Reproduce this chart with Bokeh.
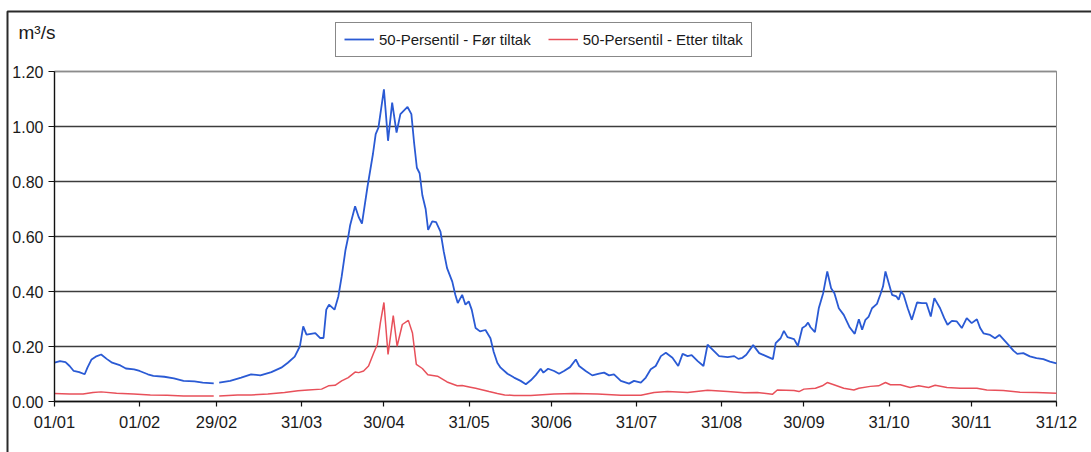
from bokeh.plotting import figure
from bokeh.models import (FixedTicker, Legend, LegendItem, Label, BoxAnnotation,
                          PrintfTickFormatter, Range1d)
from bokeh.embed import file_html
from bokeh.resources import INLINE

nan = float("nan")

# Day of year (1 = 01/01, leap year) and daily median flow, m3/s
before_day = [1, 3, 5, 6.5, 8, 10, 12, 13, 14.5, 16, 18, 20, 22, 25, 27, 30, 32, 35, 37, 41,
              44.5, 48, 52, 55, 59, 60, 61, 65, 69, 72.6, 76, 80, 83.6, 86, 88.5, 90.4, 91.6,
              92.8, 96, 97.7, 99, 100, 101, 103, 104.4, 105.6, 107, 108, 108.7, 110.5, 111.8,
              113, 115, 117, 118, 119, 121, 122.5, 124, 125.6, 127, 129.6, 131, 132, 133, 134,
              135, 136.2, 137.1, 138.6, 140, 141.6, 142.8, 144, 145.9, 147, 147.9, 149.5, 150.7,
              151.9, 153, 154.4, 156, 158, 159.8, 161, 162.3, 163.5, 166, 168.4, 170.8, 172.7,
              174.5, 176.3, 178.1, 179.1, 180.8, 183, 184.8, 186.6, 188.8, 190.9, 192.1, 194.5,
              196.9, 199.4, 201.2, 203, 204.8, 207.3, 210.3, 212.1, 214.6, 216.4, 218.2, 220,
              221.9, 223.7, 226.1, 228.2, 229.8, 231.6, 233.1, 235.3, 237.4, 238.9, 240.7, 243.1,
              246.2, 248.6, 250.1, 251.6, 253, 255.5, 257.7, 260, 262.7, 263.7, 265.5, 266.7,
              268, 270.4, 271.8, 273.4, 274.6, 275.5, 276.4, 278, 279.4, 281, 282.5, 283.9,
              285.1, 286.7, 288.5, 290.7, 292.5, 294, 295.2, 296.4, 297.6, 298.8, 300.6, 301.8,
              302.8, 303.7, 304.9, 306.1, 307.7, 308.5, 309.4, 310.3, 311.8, 313.3, 315.2, 317,
              318.6, 320.2, 321.5, 323.6, 325.1, 326.3, 327.9, 329.7, 331.5, 333.3, 335.1, 337,
              338.2, 339.4, 341.8, 343.6, 345.2, 346.6, 348.5, 350.3, 351.7, 353.9, 356.3, 358.7,
              361.2, 363.6, 366]
before_flow = [0.141, 0.147, 0.143, 0.129, 0.111, 0.107, 0.099, 0.123, 0.153, 0.163, 0.171, 0.155,
               0.141, 0.131, 0.120, 0.117, 0.111, 0.099, 0.093, 0.090, 0.084, 0.075, 0.073, 0.069,
               0.066, nan, 0.069, 0.075, 0.087, 0.099, 0.095, 0.107, 0.123, 0.141, 0.163, 0.201,
               0.273, 0.243, 0.249, 0.231, 0.231, 0.334, 0.352, 0.334, 0.382, 0.454, 0.551, 0.599,
               0.641, 0.710, 0.671, 0.647, 0.780, 0.900, 0.972, 0.996, 1.135, 0.948, 1.087, 0.978,
               1.045, 1.071, 1.045, 0.940, 0.850, 0.830, 0.750, 0.700, 0.624, 0.655, 0.652, 0.618,
               0.545, 0.485, 0.436, 0.388, 0.358, 0.388, 0.352, 0.364, 0.333, 0.267, 0.255, 0.260,
               0.230, 0.180, 0.141, 0.123, 0.101, 0.087, 0.075, 0.063, 0.077, 0.096, 0.119, 0.105,
               0.119, 0.111, 0.101, 0.111, 0.125, 0.153, 0.129, 0.111, 0.095, 0.101, 0.105, 0.095,
               0.099, 0.075, 0.065, 0.075, 0.069, 0.087, 0.117, 0.129, 0.165, 0.177, 0.159, 0.129,
               0.173, 0.165, 0.169, 0.147, 0.129, 0.207, 0.189, 0.165, 0.161, 0.165, 0.155, 0.159,
               0.170, 0.205, 0.176, 0.166, 0.154, 0.212, 0.230, 0.257, 0.234, 0.227, 0.202, 0.267,
               0.275, 0.287, 0.270, 0.252, 0.339, 0.394, 0.473, 0.412, 0.394, 0.339, 0.315, 0.269,
               0.246, 0.299, 0.261, 0.297, 0.309, 0.339, 0.355, 0.388, 0.418, 0.473, 0.430, 0.388,
               0.382, 0.370, 0.400, 0.388, 0.339, 0.297, 0.360, 0.358, 0.358, 0.309, 0.376, 0.339,
               0.303, 0.279, 0.293, 0.291, 0.267, 0.303, 0.285, 0.299, 0.267, 0.248, 0.242, 0.230,
               0.242, 0.227, 0.206, 0.185, 0.173, 0.176, 0.164, 0.158, 0.154, 0.145, 0.139]

after_day = [1, 6.5, 11.4, 15, 18, 23.6, 29.8, 35.9, 42, 48, 54, 59, 60, 61, 67.7, 72.6, 78.7,
             84.8, 89.7, 93.4, 98.3, 100.8, 103.2, 105.6, 108, 110.5, 111.8, 113.6, 115.4, 117.3,
             118.6, 119.7, 121, 122.5, 124.4, 125.8, 127.7, 129.9, 131.4, 132.8, 135, 137, 140.5,
             144, 147.7, 149.5, 152.5, 154.4, 157.4, 159.3, 162.3, 165, 168.4, 174.5, 183, 190.3,
             198.8, 207.3, 214.6, 219.4, 224.3, 231.6, 238.9, 246.2, 252.2, 257, 262.5, 264.3,
             270.4, 272.2, 274, 278.2, 280.7, 282.5, 284.9, 288.5, 292.2, 294, 298.2, 301.2,
             303.7, 305.5, 309.1, 312.7, 315.8, 319.4, 321.8, 326.1, 330.9, 337, 340.6, 346.6,
             352.7, 358.7, 366]
after_flow = [0.029, 0.027, 0.027, 0.033, 0.035, 0.030, 0.027, 0.024, 0.023, 0.020, 0.020, 0.020,
              nan, 0.020, 0.024, 0.024, 0.027, 0.033, 0.039, 0.042, 0.045, 0.057, 0.059, 0.075,
              0.087, 0.107, 0.105, 0.111, 0.129, 0.177, 0.207, 0.286, 0.360, 0.171, 0.312, 0.201,
              0.280, 0.295, 0.249, 0.135, 0.120, 0.097, 0.092, 0.071, 0.057, 0.058, 0.052, 0.048,
              0.041, 0.036, 0.029, 0.024, 0.022, 0.022, 0.027, 0.029, 0.027, 0.023, 0.023, 0.033,
              0.036, 0.033, 0.041, 0.036, 0.032, 0.033, 0.026, 0.042, 0.040, 0.036, 0.045, 0.048,
              0.057, 0.069, 0.061, 0.048, 0.042, 0.048, 0.055, 0.057, 0.069, 0.061, 0.061, 0.051,
              0.057, 0.051, 0.059, 0.051, 0.048, 0.048, 0.042, 0.040, 0.034, 0.033, 0.030]

tick_days = [1, 32, 60, 91, 121, 152, 182, 213, 244, 274, 305, 335, 366]
tick_labels = ["01/01", "01/02", "29/02", "31/03", "30/04", "31/05", "30/06",
               "31/07", "31/08", "30/09", "31/10", "30/11", "31/12"]
y_ticks = [0.0, 0.2, 0.4, 0.6, 0.8, 1.0, 1.2]

series_names = ["50-Persentil - Før tiltak", "50-Persentil - Etter tiltak"]
unit_text = "m³/s"

FONT = "Liberation Sans"

# Canvas geometry (px): the frame covers the whole canvas so that the
# legend, unit text and outer border can sit around the plotting area.
W, H = 1091, 452
AREA_LEFT, AREA_RIGHT, AREA_TOP, AREA_BOTTOM = 54, 1056, 71, 401

x0, x1 = tick_days[0], tick_days[-1]
y0, y1 = y_ticks[0], y_ticks[-1]
px_per_day = (AREA_RIGHT - AREA_LEFT) / (x1 - x0)
px_per_unit = (AREA_BOTTOM - AREA_TOP) / (y1 - y0)
x_range = Range1d(x0 - AREA_LEFT / px_per_day, x1 + (W - AREA_RIGHT) / px_per_day)
y_range = Range1d(y0 - (H - AREA_BOTTOM) / px_per_unit, y1 + AREA_TOP / px_per_unit)

p = figure(width=W, height=H, output_backend="svg", toolbar_location=None,
           x_range=x_range, y_range=y_range,
           min_border_left=0, min_border_right=0, min_border_top=0, min_border_bottom=0)
p.background_fill_color = "white"
p.border_fill_color = "white"
p.outline_line_color = None

# Axes pinned to the edges of the plotting area
p.yaxis.fixed_location = x0
p.yaxis.bounds = (y0, y1)
p.xaxis.fixed_location = y0
p.xaxis.bounds = (x0, x1)

p.yaxis.ticker = FixedTicker(ticks=y_ticks)
p.yaxis.formatter = PrintfTickFormatter(format="%.2f")
p.xaxis.ticker = FixedTicker(ticks=tick_days)
p.xaxis.major_label_overrides = {d: t for d, t in zip(tick_days, tick_labels)}

for ax in (p.xaxis[0], p.yaxis[0]):
    ax.axis_line_color = "#111111"
    ax.axis_line_width = 1.4
    ax.major_tick_line_color = "#111111"
    ax.major_tick_line_width = 1.2
    ax.major_tick_in = 0
    ax.minor_tick_line_color = None
    ax.major_label_text_font = FONT
    ax.major_label_text_color = "#1a1a1a"
p.xaxis.major_label_text_font_size = "16.5px"
p.yaxis.major_label_text_font_size = "16px"
p.yaxis.major_tick_out = 6
p.yaxis.major_label_standoff = 5
p.xaxis.major_tick_out = 5
p.xaxis.major_label_standoff = 6

# Horizontal grid lines, limited to the plotting area
p.xgrid.visible = False
ygrid = p.ygrid[0]
if "cross_bounds" in ygrid.properties():
    ygrid.cross_bounds = (x0, x1)
    ygrid.bounds = (y0, y1)
    ygrid.grid_line_color = "#3c3c3c"
    ygrid.grid_line_width = 1.3
else:
    ygrid.visible = False
    for v in y_ticks[1:]:
        p.add_layout(BoxAnnotation(left=x0, right=x1, bottom=v, top=v, level="underlay",
                                   fill_alpha=0, line_color="#3c3c3c", line_alpha=1,
                                   line_width=1.3))

# Grey border of the plotting area
p.add_layout(BoxAnnotation(left=x0, right=x1, bottom=y0, top=y1, level="underlay",
                           fill_alpha=0, line_color="#8c8c8c", line_alpha=1, line_width=1))

r_before = p.line(before_day, before_flow, line_color="#2a5ad4", line_width=1.8)
r_after = p.line(after_day, after_flow, line_color="#e8505a", line_width=1.5)

legend = Legend(items=[LegendItem(label=series_names[0], renderers=[r_before]),
                       LegendItem(label=series_names[1], renderers=[r_after])],
                location=(335, H - 56.5), orientation="horizontal",
                border_line_color="#111111", border_line_width=1.2,
                background_fill_color="white", background_fill_alpha=1,
                padding=8, margin=0, spacing=17, label_standoff=5,
                glyph_width=30, glyph_height=12, label_height=12,
                label_text_font=FONT, label_text_font_size="15px",
                label_text_color="#1a1a1a")
p.add_layout(legend)

p.add_layout(Label(x=18, y=H - 32, x_units="screen", y_units="screen", text=unit_text,
                   text_font=FONT, text_font_size="19px", text_color="#1a1a1a",
                   text_baseline="alphabetic"))

# Outer chart border; only its left and top edges fall on the canvas
p.add_layout(BoxAnnotation(left=7, right=W + 20, top=H - 11, bottom=-20,
                           left_units="screen", right_units="screen",
                           top_units="screen", bottom_units="screen",
                           fill_alpha=0, line_color="#2a2a2a", line_alpha=1, line_width=2))

open("out.html", "w").write(file_html(p, INLINE))
